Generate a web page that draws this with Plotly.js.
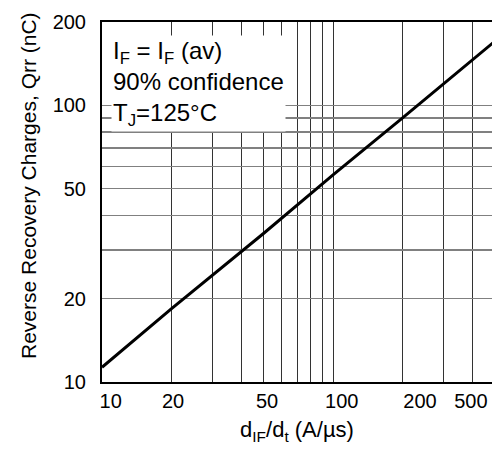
<!DOCTYPE html>
<html>
<head>
<meta charset="utf-8">
<script src="https://cdn.plot.ly/plotly-3.0.1.min.js"></script>
<style>html,body{margin:0;padding:0;background:#fff;}#chart{width:492px;height:450px;}</style>
</head>
<body>
<div id="chart"></div>
<script>
// Data (log-log)
const dIdt = [10, 20, 50, 100, 200, 500];
const qrr = [11.3, 18.4, 34.4, 56, 90, 170];

// Grid lines
const xGridVals = [20, 30, 40, 50, 60, 70, 80, 90, 100, 200, 300, 400];
const yGridVals = [20, 30, 40, 50, 60, 70, 80, 90, 100];

// Tick labels (as placed in the reference)
const xTickText = ['10', '20', '50', '100', '200', '500'];
const xTickPos = [10.9, 20.3, 51.8, 109, 238, 395];
const yTickText = ['10', '20', '50', '100', '200'];
const yTickVals = [10, 20, 50, 100, 200];

const FONT = 'Liberation Sans, Arial, Helvetica, sans-serif';
const xRange = [1, 2.688];
const yRange = [1, Math.log10(200)];

const traces = [
  {x: dIdt, y: qrr, type: 'scatter', mode: 'lines',
   line: {color: '#000', width: 3}, hoverinfo: 'skip', xaxis: 'x', yaxis: 'y'},
  {x: dIdt, y: qrr, type: 'scatter', mode: 'lines', opacity: 0,
   line: {width: 0}, hoverinfo: 'skip', xaxis: 'x2', yaxis: 'y'},
  {x: dIdt, y: qrr, type: 'scatter', mode: 'lines', opacity: 0,
   line: {width: 0}, hoverinfo: 'skip', xaxis: 'x', yaxis: 'y2'}
];

const layout = {
  width: 492, height: 450,
  margin: {l: 102, r: 0, t: 22, b: 68},
  paper_bgcolor: '#fff', plot_bgcolor: '#fff',
  showlegend: false,
  font: {family: FONT, color: '#000', size: 20},
  xaxis: {
    type: 'log', range: xRange,
    tickmode: 'array', tickvals: xGridVals, showticklabels: false,
    showgrid: true, gridcolor: '#333', gridwidth: 1,
    showline: true, linecolor: '#000', linewidth: 2, mirror: true,
    ticks: '', zeroline: false
  },
  xaxis2: {
    type: 'log', range: xRange, overlaying: 'x', side: 'bottom', anchor: 'y',
    tickmode: 'array', tickvals: xTickPos, ticktext: xTickText,
    showgrid: false, ticks: '', showline: false, zeroline: false,
    ticklabelstandoff: 5,
    tickfont: {family: FONT, size: 20, color: '#000'},
    title: {text: 'd<sub>IF</sub>/d<sub>t</sub> (A/µs)', font: {family: FONT, size: 22, color: '#000'}, standoff: 10}
  },
  yaxis: {
    type: 'log', range: yRange,
    tickmode: 'array', tickvals: yTickVals, ticktext: yTickText,
    showgrid: false, ticks: '', zeroline: false,
    showline: true, linecolor: '#000', linewidth: 2,
    ticklabelstandoff: 10,
    tickfont: {family: FONT, size: 20, color: '#000'}
  },
  yaxis2: {
    type: 'log', range: yRange, overlaying: 'y', anchor: 'x',
    tickmode: 'array', tickvals: yGridVals, showticklabels: false,
    showgrid: true, gridcolor: '#808080', gridwidth: 1.5, ticks: '', zeroline: false, showline: false
  },
  annotations: [
    {
      xref: 'paper', yref: 'paper', x: 0.022, y: 0.965, xanchor: 'left', yanchor: 'top',
      text: 'I<sub>F</sub> = I<sub>F</sub> (av)<br>90% confidence<br>T<sub>J</sub>=125°C',
      showarrow: false, align: 'left', bgcolor: '#fff', borderpad: 1,
      font: {family: FONT, size: 24, color: '#000'}
    },
    {
      xref: 'paper', yref: 'paper', x: -0.19, y: 0.547, xanchor: 'center', yanchor: 'middle',
      text: 'Reverse Recovery Charges, Qrr (nC)', textangle: -90, showarrow: false,
      font: {family: FONT, size: 21, color: '#000'}
    }
  ]
};

Plotly.newPlot('chart', traces, layout, {staticPlot: true, displayModeBar: false});
</script>
</body>
</html>
